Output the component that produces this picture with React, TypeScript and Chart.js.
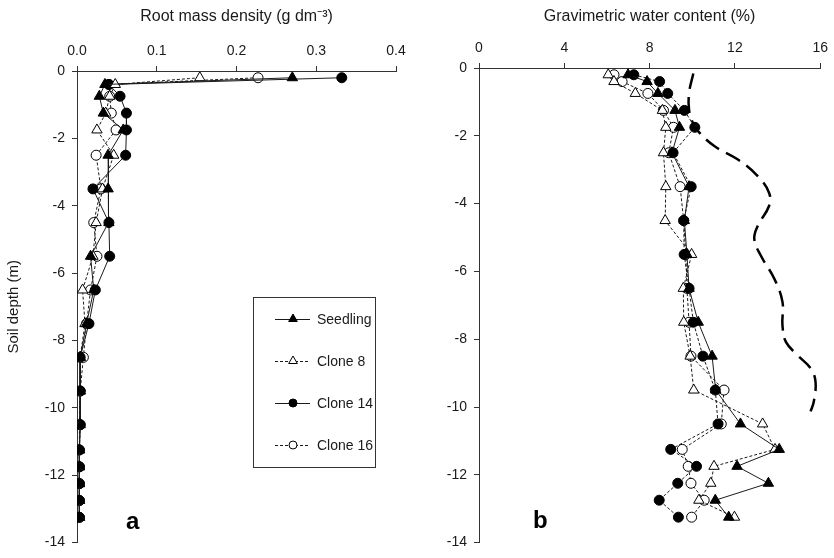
import React, { useEffect, useRef } from 'react';
import { Chart, registerables } from 'chart.js';
Chart.register(...registerables);

// Soil depth (m) of each sampling layer
const depths = [-0.2, -0.4, -0.75, -1.25, -1.75, -2.5, -3.5, -4.5, -5.5, -6.5, -7.5, -8.5, -9.5, -10.5, -11.25, -11.75, -12.25, -12.75, -13.25];

const seriesNames = ['Seedling', 'Clone 8', 'Clone 14', 'Clone 16'];

// Panel a: root mass density (g dm-3)
const rmdSeedling = [0.27, 0.035, 0.028, 0.033, 0.058, 0.039, 0.039, 0.040, 0.017, 0.021, 0.012, 0.004, 0.004, 0.004, 0.003, 0.003, 0.003, 0.003, 0.003];
const rmdClone8 = [0.154, 0.048, 0.041, 0.036, 0.025, 0.046, 0.032, 0.024, 0.020, 0.007, 0.010, 0.004, 0.004, 0.003, 0.003, 0.003, 0.003, 0.003, 0.003];
const rmdClone14 = [0.332, 0.040, 0.054, 0.062, 0.062, 0.061, 0.020, 0.040, 0.041, 0.023, 0.015, 0.004, 0.004, 0.004, 0.003, 0.003, 0.003, 0.003, 0.003];
const rmdClone16 = [0.227, 0.040, 0.041, 0.043, 0.049, 0.024, 0.030, 0.021, 0.025, 0.017, 0.012, 0.008, 0.004, 0.004, 0.003, 0.003, 0.003, 0.003, 0.003];

// Panel b: gravimetric water content (%)
const gwcSeedling = [6.99, 7.88, 8.39, 9.19, 9.40, 9.05, 9.85, 9.63, 9.75, 9.85, 10.28, 10.93, 11.1, 12.26, 14.08, 12.1, 13.57, 11.08, 11.71];
const gwcClone8 = [6.06, 6.33, 7.33, 8.6, 8.76, 8.65, 8.76, 8.73, 9.97, 9.58, 9.6, 9.9, 10.07, 13.3, 13.88, 11.02, 10.87, 10.31, 11.98];
const gwcClone14 = [7.26, 8.47, 8.85, 9.63, 10.12, 9.1, 9.95, 9.6, 9.62, 9.85, 10.05, 10.5, 11.08, 11.21, 8.99, 10.2, 9.32, 8.45, 9.35];
const gwcClone16 = [6.33, 6.71, 7.92, 8.65, 9.12, 8.9, 9.43, 9.6, 9.7, 9.75, 9.85, 9.94, 11.49, 11.36, 9.53, 9.81, 9.94, 10.56, 9.97];

// Panel b: thick dashed reference curve
const refCurveX = [10.05, 9.85, 9.85, 10.0, 10.28, 11.05, 12.14, 13.07, 13.6, 13.6, 13.07, 12.91, 13.22, 13.85, 14.23, 14.23, 14.39, 14.93, 15.55, 15.78, 15.7, 15.55];
const refCurveDepth = [-0.16, -0.74, -1.23, -1.58, -1.87, -2.31, -2.70, -3.19, -3.68, -4.07, -4.66, -5.05, -5.54, -6.22, -6.9, -7.59, -8.08, -8.47, -8.86, -9.25, -9.84, -10.13];

const depthMin = -14, depthMax = 0, depthStep = 2;
const rmdMin = 0, rmdMax = 0.4, rmdStep = 0.1;
const gwcMin = 0, gwcMax = 16, gwcStep = 4;

const FONT = '"Liberation Sans", Arial, Helvetica, sans-serif';
const INK = '#1a1a1a';
const AXIS = '#333';

const markerStyles = [
  { pointStyle: 'triangle', fill: '#000', r: 6 },
  { pointStyle: 'triangle', fill: '#fff', r: 6 },
  { pointStyle: 'circle', fill: '#000', r: 5 },
  { pointStyle: 'circle', fill: '#fff', r: 5 },
];

function makeSeries(values: number[][], dashes: number[][]) {
  return values.map((vals, s) => ({
    label: seriesNames[s],
    data: depths.map((d, i) => ({ x: vals[i], y: d })),
    showLine: true,
    borderColor: INK,
    borderWidth: 1,
    borderDash: dashes[s],
    pointStyle: markerStyles[s].pointStyle,
    pointRadius: markerStyles[s].r,
    pointHoverRadius: markerStyles[s].r,
    pointBackgroundColor: markerStyles[s].fill,
    pointBorderColor: '#000',
    pointBorderWidth: 1,
    tension: 0,
  }));
}

function axisY(width: number, withTitle: boolean) {
  return {
    type: 'linear',
    min: depthMin,
    max: depthMax,
    ticks: { stepSize: depthStep, color: INK, font: { family: FONT, size: 14 }, padding: 7 },
    grid: { drawOnChartArea: false, drawTicks: true, tickLength: 5, color: AXIS },
    border: { display: true, color: AXIS, width: 1 },
    title: {
      display: withTitle,
      text: 'Soil depth (m)',
      color: INK,
      font: { family: FONT, size: 15 },
      padding: { top: 5, bottom: 0 },
    },
    afterFit: (s: any) => { s.width = width; },
  };
}

function axisX(min: number, max: number, step: number, title: string, height: number, fmt: (v: number) => string) {
  return {
    type: 'linear',
    position: 'top',
    min,
    max,
    ticks: { stepSize: step, color: INK, font: { family: FONT, size: 14 }, padding: 6, callback: (v: any) => fmt(Number(v)) },
    grid: { drawOnChartArea: false, drawTicks: true, tickLength: 5, color: AXIS },
    border: { display: true, color: AXIS, width: 1 },
    title: {
      display: true,
      text: title,
      color: INK,
      font: { family: FONT, size: 16 },
      padding: { top: 7, bottom: 0 },
    },
    afterFit: (s: any) => { s.height = height; },
  };
}

function drawMarker(ctx: CanvasRenderingContext2D, style: any, x: number, y: number, r: number) {
  ctx.beginPath();
  if (style.pointStyle === 'triangle') {
    ctx.moveTo(x, y - r);
    ctx.lineTo(x + 0.866 * r, y + 0.5 * r);
    ctx.lineTo(x - 0.866 * r, y + 0.5 * r);
    ctx.closePath();
  } else {
    ctx.arc(x, y, r, 0, Math.PI * 2);
  }
  ctx.fillStyle = style.fill;
  ctx.fill();
  ctx.lineWidth = 1;
  ctx.strokeStyle = '#000';
  ctx.stroke();
}

const legendDashes = [[], [3, 2], [], [3, 2]];

const legendPlugin = {
  id: 'legendBoxA',
  afterDraw(chart: any) {
    const ctx = chart.ctx as CanvasRenderingContext2D;
    ctx.save();
    ctx.strokeStyle = AXIS;
    ctx.lineWidth = 1;
    ctx.setLineDash([]);
    ctx.strokeRect(253.5, 297.5, 122, 170);
    seriesNames.forEach((name, i) => {
      const y = 319 + i * 42;
      ctx.strokeStyle = INK;
      ctx.setLineDash(legendDashes[i]);
      ctx.beginPath();
      ctx.moveTo(275, y + 0.5);
      ctx.lineTo(310, y + 0.5);
      ctx.stroke();
      ctx.setLineDash([]);
      drawMarker(ctx, markerStyles[i], 293, y, markerStyles[i].pointStyle === 'triangle' ? 5 : 4);
      ctx.fillStyle = INK;
      ctx.font = `14px ${FONT}`;
      ctx.textBaseline = 'middle';
      ctx.textAlign = 'left';
      ctx.fillText(name, 317, y + 1);
    });
    ctx.font = `bold 24px ${FONT}`;
    ctx.textBaseline = 'alphabetic';
    ctx.fillStyle = '#000';
    ctx.fillText('a', 126, 529);
    ctx.restore();
  },
};

const panelBLabel = {
  id: 'panelBLabel',
  afterDraw(chart: any) {
    const ctx = chart.ctx as CanvasRenderingContext2D;
    ctx.save();
    ctx.font = `bold 24px ${FONT}`;
    ctx.textBaseline = 'alphabetic';
    ctx.textAlign = 'left';
    ctx.fillStyle = '#000';
    ctx.fillText('b', 533 - 417, 528);
    ctx.restore();
  },
};

export default function App() {
  const refA = useRef<HTMLCanvasElement>(null);
  const refB = useRef<HTMLCanvasElement>(null);

  useEffect(() => {
    const chartA = new Chart(refA.current as HTMLCanvasElement, {
      type: 'scatter',
      data: {
        datasets: makeSeries([rmdSeedling, rmdClone8, rmdClone14, rmdClone16], [[], [3, 2], [], [3, 2]]) as any,
      },
      options: {
        animation: false,
        responsive: false,
        devicePixelRatio: 1,
        layout: { padding: { left: 0, right: 21, top: 0, bottom: 13 } },
        plugins: { legend: { display: false }, tooltip: { enabled: false } },
        scales: {
          x: axisX(rmdMin, rmdMax, rmdStep, 'Root mass density (g dm\u207B\u00B3)', 71, (v) => v.toFixed(1)) as any,
          y: axisY(77, true) as any,
        },
      },
      plugins: [legendPlugin],
    });

    const chartB = new Chart(refB.current as HTMLCanvasElement, {
      type: 'scatter',
      data: {
        datasets: [
          ...(makeSeries([gwcSeedling, gwcClone8, gwcClone14, gwcClone16], [[], [3, 2], [3, 2], [3, 2]]) as any),
          {
            label: 'reference',
            data: refCurveX.map((x, i) => ({ x, y: refCurveDepth[i] })),
            showLine: true,
            borderColor: '#000',
            borderWidth: 2.5,
            borderDash: [16, 8],
            pointRadius: 0,
            tension: 0.4,
          },
        ],
      },
      options: {
        animation: false,
        responsive: false,
        devicePixelRatio: 1,
        layout: { padding: { left: 0, right: 11, top: 0, bottom: 13 } },
        plugins: { legend: { display: false }, tooltip: { enabled: false } },
        scales: {
          x: axisX(gwcMin, gwcMax, gwcStep, 'Gravimetric water content (%)', 68, (v) => String(Math.round(v))) as any,
          y: axisY(62, false) as any,
        },
      },
      plugins: [panelBLabel],
    });

    return () => {
      chartA.destroy();
      chartB.destroy();
    };
  }, []);

  return (
    <div style={{ position: 'fixed', left: 0, top: 0, width: 834, height: 558, background: '#fff' }}>
      <canvas ref={refA} width={417} height={558} style={{ position: 'absolute', left: 0, top: 0, width: 417, height: 558 }} />
      <canvas ref={refB} width={417} height={558} style={{ position: 'absolute', left: 417, top: 0, width: 417, height: 558 }} />
    </div>
  );
}
